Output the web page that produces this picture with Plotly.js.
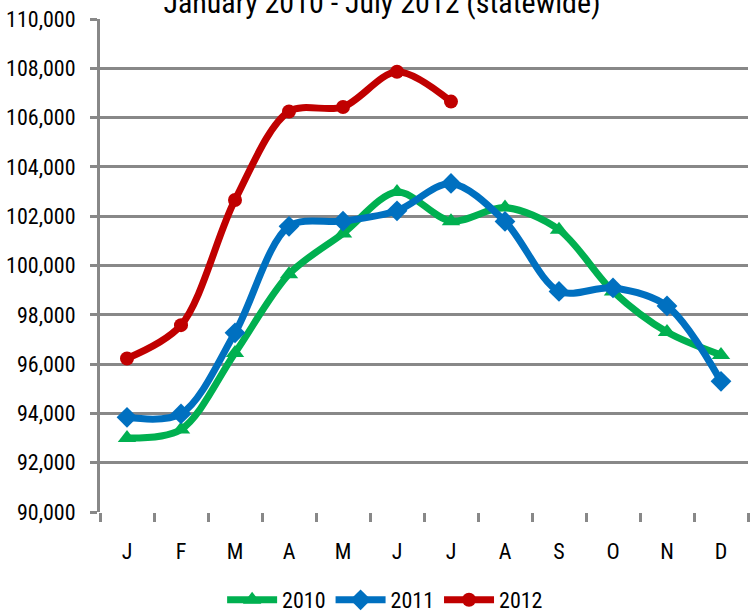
<!DOCTYPE html>
<html>
<head>
<meta charset="utf-8">
<script src="https://cdn.plot.ly/plotly-3.0.1.min.js"></script>
<style>html,body{margin:0;padding:0;background:#fff;}#chart{width:756px;height:614px;}</style>
</head>
<body>
<div id="chart"></div>
<script>
var months = ["Jan","Feb","Mar","Apr","May","Jun","Jul","Aug","Sep","Oct","Nov","Dec"];
var monthLabels = ["J","F","M","A","M","J","J","A","S","O","N","D"];
var months2012 = ["Jan","Feb","Mar","Apr","May","Jun","Jul"];
var values2010 = [93000, 93350, 96450, 99650, 101300, 102980, 101800, 102350, 101450, 98950, 97300, 96370];
var values2011 = [93840, 93980, 97270, 101590, 101800, 102220, 103330, 101790, 98950, 99090, 98360, 95300];
var values2012 = [96230, 97580, 102660, 106250, 106430, 107860, 106650];
var yTicks = [90000,92000,94000,96000,98000,100000,102000,104000,106000,108000,110000];
var yTickText = ["90,000","92,000","94,000","96,000","98,000","100,000","102,000","104,000","106,000","108,000","110,000"];

var FONT = "Roboto Condensed, Carlito, DejaVu Sans Condensed, sans-serif";
var grey = "#888888";

function series(name, x, y, color, symbol, size) {
  return {
    type: "scatter", mode: "lines+markers", name: name, x: x, y: y,
    line: {color: color, width: 7, shape: "spline", smoothing: 0.9},
    marker: {color: color, symbol: symbol, size: size}
  };
}

var data = [
  series("2010", months, values2010, "#00b050", "triangle-up", 16),
  series("2011", months, values2011, "#0070c0", "diamond", 16),
  series("2012", months2012, values2012, "#c00000", "circle", 14)
];

var layout = {
  width: 756, height: 614,
  paper_bgcolor: "#ffffff", plot_bgcolor: "#ffffff",
  margin: {l: 100, r: 8, t: 19, b: 102},
  font: {family: FONT, size: 22, color: "#000000"},
  title: {text: "January 2010 - July 2012 (statewide)", x: 382/756, xref: "container", xanchor: "center",
          y: 1 - 2/614, yref: "container", yanchor: "middle", automargin: false,
          font: {family: FONT, size: 30, color: "#000"}},
  showlegend: true,
  legend: {orientation: "h", x: 0.44, xanchor: "center", xref: "paper",
           y: 1 - 600/614, yref: "container", yanchor: "middle",
           font: {family: FONT, size: 22, color: "#000"}, itemwidth: 50, tracegroupgap: 0},
  xaxis: {
    type: "category", categoryorder: "array", categoryarray: months,
    tickmode: "array", tickvals: months, ticktext: monthLabels,
    tickson: "boundaries", ticks: "outside", ticklen: 9, tickwidth: 3, tickcolor: grey,
    ticklabelstandoff: 24,
    showgrid: false, showline: false, zeroline: false, automargin: false,
    range: [-0.5, 11.5],
    tickfont: {family: FONT, size: 22, color: "#000"}
  },
  yaxis: {
    range: [90000, 110000], tickmode: "array", tickvals: yTicks, ticktext: yTickText,
    showgrid: true, gridcolor: grey, gridwidth: 3,
    showline: true, linecolor: grey, linewidth: 3,
    ticks: "outside", ticklen: 7, tickwidth: 3, tickcolor: grey,
    ticklabelstandoff: 10,
    zeroline: false, automargin: false,
    tickfont: {family: FONT, size: 22, color: "#000"}
  }
};

Plotly.newPlot("chart", data, layout, {displayModeBar: false, staticPlot: true});
</script>
</body>
</html>
